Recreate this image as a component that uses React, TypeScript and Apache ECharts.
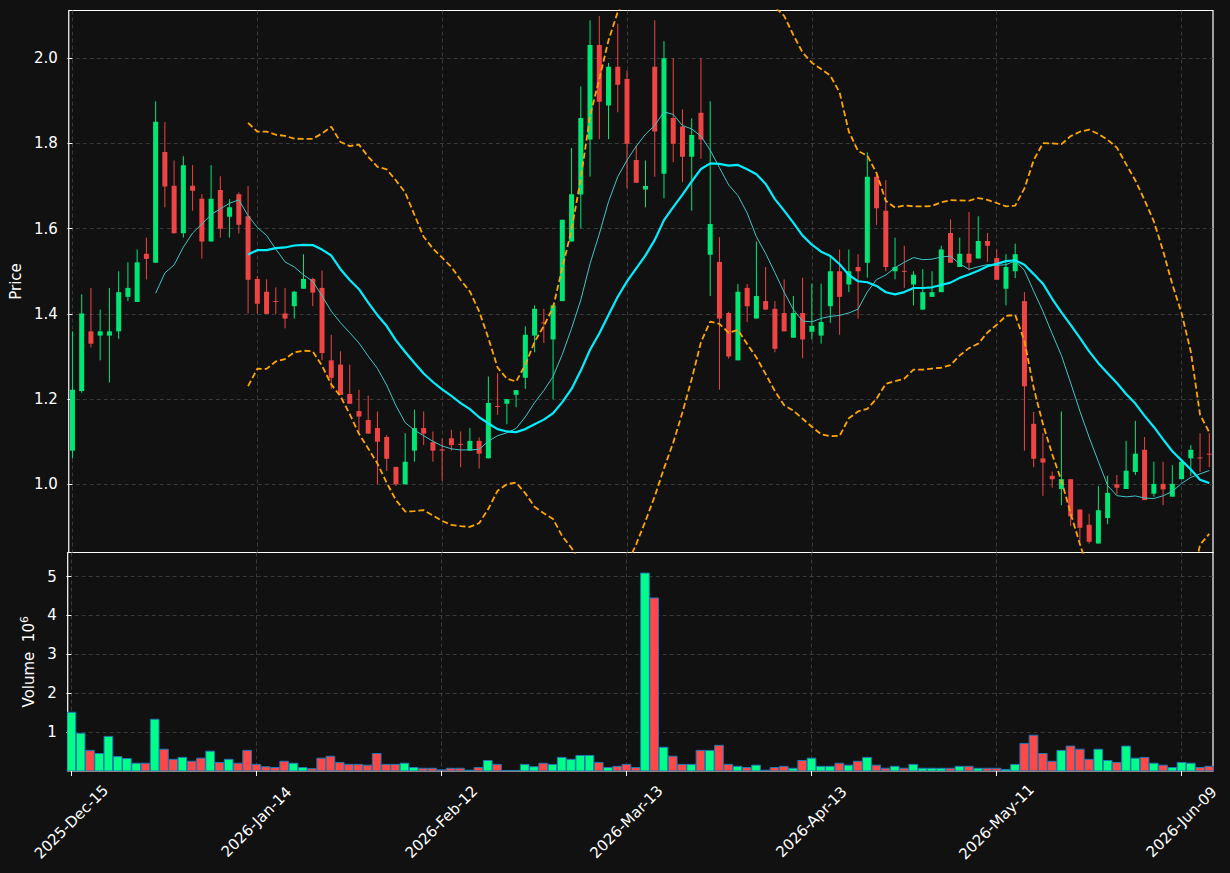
import React, { useEffect, useRef } from 'react';
import * as echarts from 'echarts';

// ---- tick labels (trading-day index -> date label) ----
const tickIndex = [0, 20, 40, 60, 80, 100, 120];
const tickLabels = ['2025-Dec-15', '2026-Jan-14', '2026-Feb-12', '2026-Mar-13', '2026-Apr-13', '2026-May-11', '2026-Jun-09'];
const priceTicks = [1.0, 1.2, 1.4, 1.6, 1.8, 2.0];
const volumeTicks = [1, 2, 3, 4, 5];

// ---- OHLC (one entry per trading day) ----
const open = [
  1.079, 1.219, 1.359, 1.349, 1.349, 1.359, 1.440, 1.428, 1.541, 1.520,
  1.780, 1.701, 1.589, 1.701, 1.670, 1.570, 1.691, 1.628, 1.681, 1.629,
  1.482, 1.452, 1.430, 1.401, 1.418, 1.459, 1.482, 1.461, 1.291, 1.281,
  1.212, 1.172, 1.151, 1.132, 1.111, 1.041, 1.000, 1.079, 1.132, 1.099,
  1.082, 1.108, 1.095, 1.079, 1.102, 1.061, 1.184, 1.189, 1.210, 1.250,
  1.349, 1.380, 1.340, 1.430, 1.570, 1.680, 1.809, 2.031, 1.889, 1.980,
  1.951, 1.761, 1.692, 1.980, 1.729, 1.860, 1.840, 1.769, 1.872, 1.539,
  1.522, 1.402, 1.291, 1.461, 1.389, 1.430, 1.412, 1.402, 1.344, 1.402,
  1.358, 1.349, 1.418, 1.500, 1.469, 1.510, 1.520, 1.722, 1.642, 1.500,
  1.501, 1.469, 1.410, 1.440, 1.451, 1.590, 1.510, 1.541, 1.530, 1.571,
  1.531, 1.459, 1.500, 1.430, 1.142, 1.061, 1.020, 0.989, 1.012, 0.941,
  0.905, 0.861, 0.921, 1.000, 0.989, 1.029, 1.081, 0.978, 1.001, 0.971,
  1.012, 1.061, 1.063, 1.072,
];
const high = [
  1.359, 1.446, 1.461, 1.410, 1.461, 1.500, 1.521, 1.551, 1.579, 1.899,
  1.850, 1.760, 1.770, 1.749, 1.681, 1.749, 1.723, 1.669, 1.685, 1.700,
  1.489, 1.481, 1.462, 1.461, 1.454, 1.540, 1.485, 1.502, 1.351, 1.312,
  1.281, 1.222, 1.208, 1.171, 1.116, 1.041, 1.120, 1.175, 1.171, 1.124,
  1.108, 1.128, 1.124, 1.132, 1.110, 1.253, 1.261, 1.200, 1.221, 1.371,
  1.420, 1.412, 1.422, 1.621, 1.789, 1.934, 2.089, 2.099, 1.989, 2.081,
  1.971, 1.795, 1.760, 2.089, 2.040, 2.000, 1.880, 1.859, 2.000, 1.899,
  1.580, 1.405, 1.470, 1.470, 1.570, 1.510, 1.430, 1.481, 1.442, 1.485,
  1.471, 1.471, 1.534, 1.551, 1.551, 1.540, 1.779, 1.730, 1.714, 1.579,
  1.560, 1.500, 1.505, 1.500, 1.560, 1.622, 1.579, 1.639, 1.629, 1.590,
  1.551, 1.540, 1.565, 1.451, 1.170, 1.120, 1.030, 1.171, 1.012, 0.941,
  0.931, 0.996, 1.020, 1.022, 1.102, 1.149, 1.111, 1.053, 1.053, 1.045,
  1.055, 1.092, 1.120, 1.120,
];
const low = [
  1.061, 1.215, 1.321, 1.291, 1.239, 1.341, 1.430, 1.428, 1.481, 1.520,
  1.650, 1.589, 1.579, 1.642, 1.530, 1.570, 1.579, 1.579, 1.589, 1.401,
  1.401, 1.400, 1.400, 1.366, 1.389, 1.459, 1.418, 1.291, 1.224, 1.210,
  1.189, 1.122, 1.119, 1.000, 1.031, 0.996, 1.000, 1.053, 1.092, 1.053,
  1.008, 1.079, 1.040, 1.079, 1.037, 1.061, 1.163, 1.141, 1.181, 1.224,
  1.310, 1.332, 1.200, 1.430, 1.570, 1.601, 1.722, 1.810, 1.810, 1.873,
  1.695, 1.708, 1.650, 1.722, 1.671, 1.756, 1.709, 1.642, 1.764, 1.442,
  1.222, 1.295, 1.291, 1.381, 1.389, 1.410, 1.310, 1.359, 1.344, 1.296,
  1.340, 1.330, 1.379, 1.351, 1.451, 1.389, 1.485, 1.609, 1.500, 1.481,
  1.461, 1.420, 1.410, 1.440, 1.451, 1.520, 1.510, 1.502, 1.530, 1.522,
  1.480, 1.420, 1.484, 1.079, 1.040, 0.973, 0.992, 0.951, 0.902, 0.865,
  0.861, 0.861, 0.906, 0.976, 0.989, 1.022, 0.963, 0.971, 0.951, 0.971,
  1.012, 1.020, 1.029, 1.040,
];
const close = [
  1.222, 1.401, 1.330, 1.359, 1.359, 1.451, 1.461, 1.521, 1.529, 1.851,
  1.699, 1.589, 1.749, 1.689, 1.570, 1.670, 1.600, 1.650, 1.609, 1.480,
  1.424, 1.400, 1.428, 1.389, 1.452, 1.482, 1.450, 1.308, 1.250, 1.210,
  1.189, 1.159, 1.119, 1.100, 1.060, 1.000, 1.053, 1.132, 1.119, 1.079,
  1.079, 1.092, 1.093, 1.102, 1.072, 1.191, 1.182, 1.200, 1.221, 1.351,
  1.412, 1.379, 1.420, 1.621, 1.681, 1.860, 2.031, 1.898, 1.980, 1.938,
  1.799, 1.708, 1.700, 1.828, 2.000, 1.799, 1.769, 1.820, 1.809, 1.611,
  1.389, 1.300, 1.452, 1.418, 1.442, 1.410, 1.318, 1.359, 1.402, 1.340,
  1.372, 1.381, 1.500, 1.440, 1.500, 1.500, 1.722, 1.648, 1.510, 1.510,
  1.500, 1.492, 1.451, 1.451, 1.551, 1.520, 1.541, 1.520, 1.571, 1.560,
  1.480, 1.510, 1.540, 1.230, 1.060, 1.051, 1.012, 1.012, 0.925, 0.898,
  0.865, 0.939, 0.980, 0.992, 1.032, 1.072, 0.963, 1.001, 0.988, 1.001,
  1.053, 1.081, 1.062, 1.071,
];
// volume in millions
const volume = [
  1.51, 0.97, 0.53, 0.45, 0.89, 0.37, 0.32, 0.20, 0.20, 1.33,
  0.56, 0.30, 0.35, 0.25, 0.33, 0.51, 0.22, 0.30, 0.20, 0.53,
  0.17, 0.11, 0.09, 0.25, 0.20, 0.09, 0.06, 0.33, 0.38, 0.22,
  0.17, 0.17, 0.15, 0.45, 0.17, 0.17, 0.20, 0.09, 0.07, 0.07,
  0.03, 0.07, 0.07, 0.02, 0.09, 0.27, 0.17, 0.01, 0.01, 0.17,
  0.11, 0.20, 0.17, 0.35, 0.30, 0.40, 0.40, 0.22, 0.09, 0.12,
  0.17, 0.09, 5.09, 4.45, 0.61, 0.38, 0.17, 0.17, 0.53, 0.53,
  0.66, 0.17, 0.12, 0.09, 0.15, 0.02, 0.09, 0.12, 0.07, 0.27,
  0.33, 0.12, 0.12, 0.20, 0.15, 0.25, 0.35, 0.15, 0.07, 0.12,
  0.07, 0.17, 0.07, 0.07, 0.07, 0.07, 0.12, 0.12, 0.07, 0.07,
  0.07, 0.04, 0.17, 0.71, 0.92, 0.45, 0.25, 0.53, 0.64, 0.56,
  0.30, 0.56, 0.27, 0.22, 0.64, 0.33, 0.35, 0.20, 0.15, 0.09,
  0.22, 0.20, 0.09, 0.12,
];

const BG = '#111111';
const UP = '#00e676';
const DOWN = '#ef4444';
const VOL_UP = '#00ff88';
const VOL_DOWN = '#ff4848';
const FONT = 'DejaVu Sans';
const FS = 15;

function sma(period: number): (number | null)[] {
  return close.map((_, i) => {
    if (i < period - 1) return null;
    let s = 0;
    for (let k = i - period + 1; k <= i; k++) s += close[k];
    return s / period;
  });
}
function stdev(period: number): (number | null)[] {
  const m = sma(period);
  return close.map((_, i) => {
    if (i < period - 1) return null;
    let s = 0;
    for (let k = i - period + 1; k <= i; k++) s += (close[k] - (m[i] as number)) ** 2;
    return Math.sqrt(s / period);
  });
}
function pairs(arr: (number | null)[]) {
  const out: number[][] = [];
  arr.forEach((v, i) => { if (v !== null) out.push([i, v]); });
  return out;
}

export default function App() {
  const ref = useRef<HTMLDivElement>(null);
  useEffect(() => {
    document.body.style.margin = '0';
    document.body.style.background = BG;
    const chart = echarts.init(ref.current!, undefined, { renderer: 'svg' });
    const ma10 = sma(10);
    const ma20 = sma(20);
    const sd20 = stdev(20);
    const upper = ma20.map((m, i) => (m === null ? null : m + 2 * (sd20[i] as number)));
    const lower = ma20.map((m, i) => (m === null ? null : m - 2 * (sd20[i] as number)));

    const candleData = close.map((c, i) => [i, open[i], c, low[i], high[i]]);
    const volData = volume.map((v, i) => [i, v, close[i] >= open[i] ? 1 : 0]);

    const gridLine = { show: true, lineStyle: { color: '#444444', type: [4, 3], width: 0.8 } };
    const xCommon = {
      type: 'value', min: -0.4, max: 123.4, splitNumber: 6,
      axisLine: { show: false },
      splitLine: gridLine,
    };

    chart.setOption({
      animation: false,
      backgroundColor: BG,
      textStyle: { fontFamily: FONT },
      grid: [
        { left: 67.7, top: 10.5, width: 1145.3, height: 542, show: true, borderColor: '#ffffff', borderWidth: 1.2, backgroundColor: BG },
        { left: 67.7, top: 552.5, width: 1145.3, height: 218.5, show: true, borderColor: '#ffffff', borderWidth: 1.2, backgroundColor: BG },
      ],
      xAxis: [
        {
          ...xCommon, gridIndex: 0,
          axisTick: { show: false, customValues: tickIndex },
          axisLabel: { show: false, customValues: tickIndex },
        },
        {
          ...xCommon, gridIndex: 1,
          axisTick: { show: true, length: 5, lineStyle: { color: '#ffffff', width: 1 }, customValues: tickIndex },
          axisLabel: {
            customValues: tickIndex,
            formatter: (v: number) => {
              const k = tickIndex.indexOf(Math.round(v));
              return k >= 0 && Math.abs(v - Math.round(v)) < 1e-6 ? tickLabels[k] : '';
            },
            rotate: 45, align: 'center', verticalAlign: 'middle', margin: 51,
            color: '#ffffff', fontSize: FS, fontFamily: FONT,
          },
        },
      ],
      yAxis: [
        {
          gridIndex: 0, type: 'value', min: 0.84, max: 2.112, splitNumber: 6,
          axisLine: { show: false },
          axisTick: { show: true, length: 5, lineStyle: { color: '#ffffff' }, customValues: priceTicks },
          axisLabel: {
            customValues: priceTicks,
            formatter: (v: number) => v.toFixed(1),
            color: '#ffffff', fontSize: FS, margin: 11, fontFamily: FONT,
          },
          splitLine: gridLine,
          name: 'Price', nameLocation: 'middle', nameRotate: 90, nameGap: 43,
          nameTextStyle: { color: '#ffffff', fontSize: FS, fontFamily: FONT },
        },
        {
          gridIndex: 1, type: 'value', min: 0, max: 5.62, interval: 1,
          axisLine: { show: false },
          axisTick: { show: true, length: 5, lineStyle: { color: '#ffffff' }, customValues: volumeTicks },
          axisLabel: {
            customValues: volumeTicks,
            formatter: (v: number) => (v === 0 ? '' : String(Math.round(v))),
            color: '#ffffff', fontSize: FS, margin: 11, fontFamily: FONT,
          },
          splitLine: gridLine,
          name: 'Volume  10{sup|6}', nameLocation: 'middle', nameRotate: 90, nameGap: 29,
          nameTextStyle: {
            color: '#ffffff', fontSize: FS, fontFamily: FONT,
            rich: { sup: { fontSize: 11, color: '#ffffff', fontFamily: FONT, verticalAlign: 'top', padding: [0, 0, 8, 0] } },
          },
        },
      ],
      series: [
        {
          type: 'custom', name: 'candles', xAxisIndex: 0, yAxisIndex: 0, clip: true,
          data: candleData,
          encode: { x: 0, y: [1, 2, 3, 4] },
          renderItem: (params: any, api: any) => {
            const i = api.value(0), o = api.value(1), c = api.value(2), l = api.value(3), h = api.value(4);
            const pO = api.coord([i, o]);
            const pC = api.coord([i, c]);
            const pL = api.coord([i, l]);
            const pH = api.coord([i, h]);
            const color = c >= o ? UP : DOWN;
            const w = 5;
            const top = Math.min(pO[1], pC[1]);
            const bh = Math.max(Math.abs(pO[1] - pC[1]), 1);
            return {
              type: 'group',
              children: [
                { type: 'line', shape: { x1: pH[0], y1: pH[1], x2: pL[0], y2: pL[1] }, style: { stroke: color, lineWidth: 1 } },
                { type: 'rect', shape: { x: pO[0] - w / 2, y: top, width: w, height: bh }, style: { fill: color } },
              ],
            };
          },
        },
        {
          type: 'custom', name: 'volume', xAxisIndex: 1, yAxisIndex: 1, clip: true,
          data: volData,
          encode: { x: 0, y: 1 },
          renderItem: (params: any, api: any) => {
            const i = api.value(0), v = api.value(1), up = api.value(2);
            const p0 = api.coord([i - 0.47, 0]);
            const p1 = api.coord([i + 0.47, v]);
            return {
              type: 'rect',
              shape: { x: p0[0], y: p1[1], width: p1[0] - p0[0], height: p0[1] - p1[1] },
              style: { fill: up ? VOL_UP : VOL_DOWN, stroke: '#1f77b4', lineWidth: 1 },
            };
          },
        },
        {
          type: 'line', name: 'BB upper', xAxisIndex: 0, yAxisIndex: 0, data: pairs(upper), symbol: 'none', clip: true,
          lineStyle: { color: '#ffa500', width: 1.8, type: [6, 3] },
        },
        {
          type: 'line', name: 'BB lower', xAxisIndex: 0, yAxisIndex: 0, data: pairs(lower), symbol: 'none', clip: true,
          lineStyle: { color: '#ffa500', width: 1.8, type: [6, 3] },
        },
        {
          type: 'line', name: 'MA10', xAxisIndex: 0, yAxisIndex: 0, data: pairs(ma10), symbol: 'none', clip: true,
          lineStyle: { color: '#40c4c4', width: 1 },
        },
        {
          type: 'line', name: 'MA20', xAxisIndex: 0, yAxisIndex: 0, data: pairs(ma20), symbol: 'none', clip: true,
          lineStyle: { color: '#00eeff', width: 2.2 },
        },
      ],
    });
    return () => chart.dispose();
  }, []);
  return (
    <div
      ref={ref}
      style={{ position: 'absolute', left: 0, top: 0, width: 1230, height: 873, background: BG }}
    />
  );
}
